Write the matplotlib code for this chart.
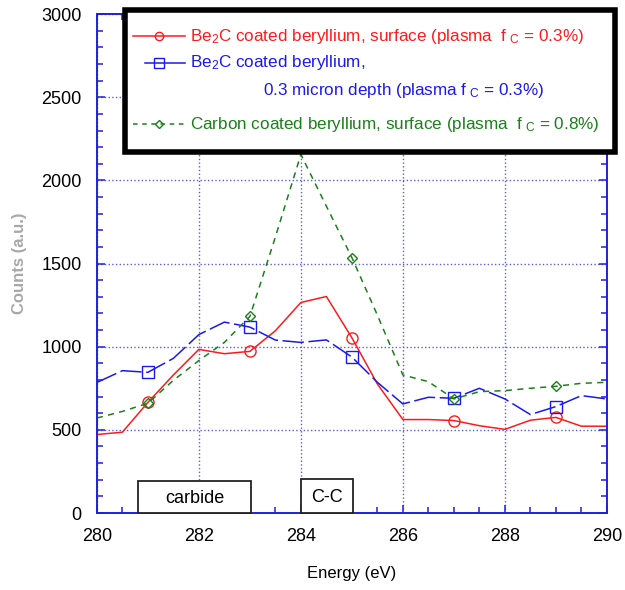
import numpy as np
import matplotlib
matplotlib.use("Agg")
import matplotlib.pyplot as plt
from matplotlib.lines import Line2D
from matplotlib.patches import Rectangle
from matplotlib.ticker import MultipleLocator

plt.rcParams['font.family'] = ['Liberation Sans', 'DejaVu Sans']
plt.rcParams['mathtext.default'] = 'regular'

# --- data ---
energy = [280.0, 280.5, 281.0, 281.5, 282.0, 282.5, 283.0, 283.5, 284.0, 284.5, 285.0,
          285.5, 286.0, 286.5, 287.0, 287.5, 288.0, 288.5, 289.0, 289.5, 290.0]
be2c_surface = [472, 486, 665, 830, 984, 958, 972, 1096, 1266, 1302, 1054,
                776, 562, 562, 556, 525, 503, 558, 575, 522, 522]
be2c_depth = [785, 856, 846, 930, 1073, 1148, 1118, 1040, 1026, 1041, 938,
              786, 656, 696, 690, 750, 686, 592, 640, 706, 686]
carbon_surface = [571, 611, 660, 798, 917, 1026, 1182, 1660, 2156, 1845, 1536,
                  1190, 830, 790, 686, 730, 736, 750, 762, 780, 786]

band_labels = ['carbide', 'C-C']
band_lo = [280.8, 284.0]
band_hi = [283.03, 285.03]
band_top = [190, 202]

red = '#ff1a1a'
blue = '#1a1aee'
green = '#1a801a'

fig = plt.figure(figsize=(6.25, 5.9), dpi=100)
ax = fig.add_axes([0.155, 0.1305, 0.816, 0.8455])

mk = dict(markevery=(2, 4), markerfacecolor='none')
ax.plot(energy, be2c_surface, color=red, lw=1.1, marker='o', ms=8, mec=red, **mk)
ax.plot(energy, be2c_depth, color=blue, lw=1.1, marker='s', ms=9, mec=blue,
        dashes=(14, 3), **mk)
ax.plot(energy, carbon_surface, color=green, lw=1.1, marker='D', ms=5.5, mec=green,
        dashes=(4, 3.5), **mk)

ax.set_xlim(280, 290)
ax.set_ylim(0, 3000)
ax.xaxis.set_major_locator(MultipleLocator(2))
ax.xaxis.set_minor_locator(MultipleLocator(0.5))
ax.yaxis.set_major_locator(MultipleLocator(500))
ax.yaxis.set_minor_locator(MultipleLocator(100))
ax.tick_params(which='both', direction='in', color='#2020dd', top=True, right=True,
               labelsize=13, width=1.1)
ax.tick_params(which='major', length=6, pad=11)
ax.tick_params(which='minor', length=4)
for s in ax.spines.values():
    s.set_color('#2020dd')
    s.set_linewidth(1.4)
ax.grid(True, which='major', color='#5a5aee', linestyle=':', linewidth=1.0)
ax.set_axisbelow(True)

ax.set_xlabel('Energy (eV)', fontsize=12, labelpad=15)
ax.set_ylabel('Counts (a.u.)', fontsize=12, color='#a8a8a8', fontweight='bold',
              labelpad=10)

# assignment boxes on the energy axis
for lab, lo, hi, top in zip(band_labels, band_lo, band_hi, band_top):
    ax.add_patch(Rectangle((lo, 0), hi - lo, top, facecolor='white', edgecolor='#222222',
                           lw=1.3, zorder=5, clip_on=False))
    ax.text((lo + hi) / 2, top * 0.45, lab, ha='center', va='center', fontsize=13,
            zorder=6)

# legend box drawn by hand in figure pixels
W, H = 625, 590
def fx(px):
    return px / W
def fy(py):
    return 1 - py / H

fig.patches.append(Rectangle((fx(125), fy(152)), fx(615) - fx(125), fy(10) - fy(152),
                             transform=fig.transFigure, facecolor='white',
                             edgecolor='black', lw=4, zorder=10))
entries = [
    (36, red, 'o', 6, None, 133,
     r'Be$_2$C coated beryllium, surface (plasma  f$_{\ C}$ = 0.3%)'),
    (63, blue, 's', 7, None, 145,
     r'Be$_2$C coated beryllium,'),
    (124, green, 'D', 4.5, (3, 3), 133,
     r'Carbon coated beryllium, surface (plasma  f$_{\ C}$ = 0.8%)'),
]
for py, col, m, ms, dash, xs, txt in entries:
    l = Line2D([fx(xs), fx(185)], [fy(py), fy(py)], transform=fig.transFigure,
               color=col, lw=1.1, zorder=11)
    if dash:
        l.set_dashes(dash)
    fig.lines.append(l)
    fig.lines.append(Line2D([fx(159)], [fy(py)], transform=fig.transFigure,
                            marker=m, ms=ms, mfc='none', mec=col,
                            linestyle='none', zorder=12))
    fig.text(fx(190), fy(py), txt, color=col, fontsize=12.3, va='center', ha='left',
             zorder=12)
fig.text(fx(263), fy(91), r'0.3 micron depth (plasma f$_{\ C}$ = 0.3%)', color=blue,
         fontsize=12.3, va='center', ha='left', zorder=12)

fig.savefig('out.png', dpi=100)
